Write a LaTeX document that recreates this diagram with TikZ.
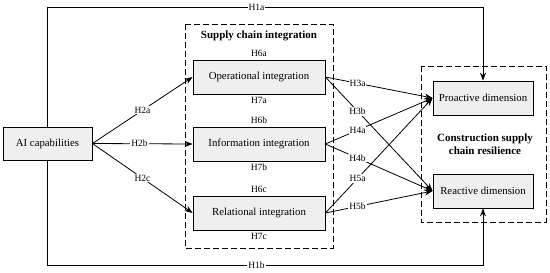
\documentclass[tikz,border=0pt]{standalone}
\usepackage{fontspec}
\setmainfont{Liberation Serif}
\usepackage{tikz}
\usetikzlibrary{positioning,arrows.meta}
\definecolor{boxgray}{HTML}{EFEFEF}

\begin{document}
\begin{tikzpicture}[x=1pt, y=1pt, line width=0.8pt,
    box/.style={draw, fill=boxgray, minimum width=132pt, minimum height=34pt, inner sep=1pt, font=\fontsize{10.8}{12}\selectfont},
    hlab/.style={fill=white, inner sep=1pt, font=\fontsize{9.5}{10}\selectfont},
    arr/.style={-{Stealth[length=8pt, width=6pt]}},
    frame/.style={dashed, dash pattern=on 6pt off 3pt, line width=0.9pt}]
    \useasboundingbox (0,0) rectangle (550,-273);

    % Boxes
    \node[box, minimum width=89pt, minimum height=33pt] (ai) at (47.5,-143.5) {AI capabilities};
    \node[box] (ops) at (259,-77) {Operational integration};
    \node[box] (info) at (259,-144) {Information integration};
    \node[box] (rel) at (259,-213) {Relational integration};
    \node[box, minimum width=100pt] (pro) at (483,-98) {Proactive dimension};
    \node[box, minimum width=100pt] (rea) at (483,-191) {Reactive dimension};

    % Dashed groups
    \draw[frame] (185,-24) rectangle (333,-248);
    \draw[frame] (421,-66) rectangle (546,-222);
    \node[font=\fontsize{11}{13}\selectfont\bfseries] (sci) at (259,-36) {Supply chain integration};
    \node[align=center, font=\fontsize{11}{13}\selectfont\bfseries] (csr) at (485,-144) {Construction supply\\chain resilience};

    % Moderator labels
    \node[hlab, above=1.5pt of ops] (h6a) {H6a};
    \node[hlab, below=1.5pt of ops] (h7a) {H7a};
    \node[hlab, above=1.5pt of info] (h6b) {H6b};
    \node[hlab, below=1.5pt of info] (h7b) {H7b};
    \node[hlab, above=1.5pt of rel] (h6c) {H6c};
    \node[hlab, below=1.5pt of rel] (h7c) {H7c};

    % Direct paths
    \coordinate (toprow) at (0,-7);
    \coordinate (botrow) at (0,-265);
    \draw[arr] (ai.north) -- (ai.north |- toprow) -- (pro.north |- toprow) node[hlab, pos=0.48] {H1a} -- (pro.north);
    \draw[arr] (ai.south) -- (ai.south |- botrow) -- (rea.south |- botrow) node[hlab, pos=0.48] {H1b} -- (rea.south);

    % AI to integration
    \draw[arr] (ai.east) -- (ops.west) node[hlab, midway] {H2a};
    \draw[arr] (ai.east) -- (info.west) node[hlab, pos=0.47] {H2b};
    \draw[arr] (ai.east) -- (rel.west) node[hlab, midway] {H2c};

    % Integration to resilience
    \draw[arr] (ops.east) -- (pro.west) node[hlab, pos=0.3] {H3a};
    \draw[arr] (ops.east) -- (rea.west) node[hlab, pos=0.3] {H3b};
    \draw[arr] (info.east) -- (pro.west) node[hlab, pos=0.3] {H4a};
    \draw[arr] (info.east) -- (rea.west) node[hlab, pos=0.3] {H4b};
    \draw[arr] (rel.east) -- (pro.west) node[hlab, pos=0.3] {H5a};
    \draw[arr] (rel.east) -- (rea.west) node[hlab, pos=0.3] {H5b};
\end{tikzpicture}
\end{document}
